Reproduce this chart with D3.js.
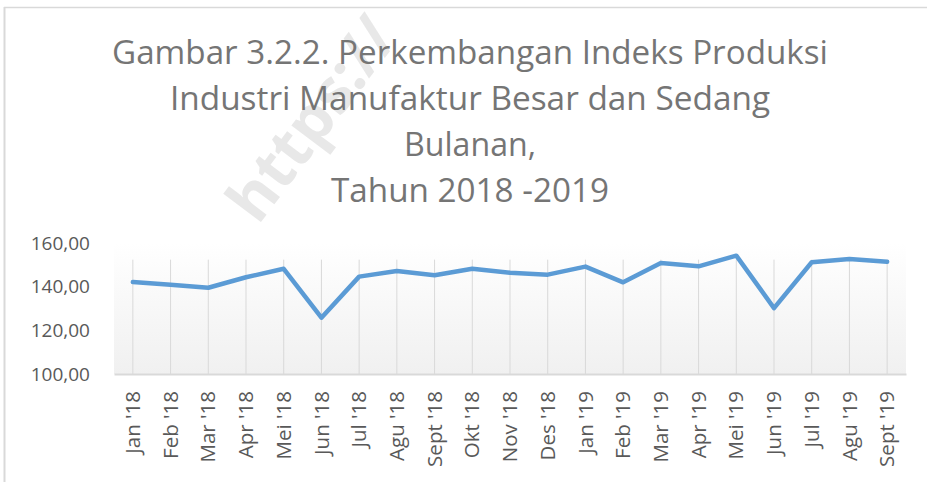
<!DOCTYPE html>
<html>
<head>
<meta charset="utf-8">
<script src="https://cdn.jsdelivr.net/npm/d3@7"></script>
<style>
  body { margin: 0; background: #fff; }
  text { font-family: "Open Sans", "Noto Sans", sans-serif; }
</style>
</head>
<body>
<div id="chart"></div>
<script>
// data
const months = ["Jan '18", "Feb '18", "Mar '18", "Apr '18", "Mei '18", "Jun '18", "Jul '18",
  "Agu '18", "Sept '18", "Okt '18", "Nov '18", "Des '18", "Jan '19", "Feb '19", "Mar '19",
  "Apr '19", "Mei '19", "Jun '19", "Jul '19", "Agu '19", "Sept '19"];
const indeks = [142.1, 140.9, 139.5, 144.3, 148.2, 125.8, 144.6, 147.2, 145.2, 148.2, 146.4,
  145.5, 149.2, 142.0, 150.8, 149.3, 154.2, 130.2, 151.2, 152.7, 151.4];
const yTicks = [100, 120, 140, 160];
const titleLines = ["Gambar 3.2.2. Perkembangan Indeks Produksi",
  "Industri Manufaktur Besar dan Sedang", "Bulanan,", "Tahun 2018 -2019"];

const width = 927, height = 482;
const margin = {top: 243, right: 21, bottom: 108, left: 114};

const svg = d3.select("#chart")
  .append("svg")
  .attr("width", width)
  .attr("height", height);

// chart frame (only top and left edges are visible)
svg.append("line").attr("x1", 4.5).attr("x2", 4.5).attr("y1", 7).attr("y2", height)
  .attr("stroke", "#d9d9d9").attr("stroke-width", 2);
svg.append("line").attr("x1", 4).attr("x2", width).attr("y1", 7.5).attr("y2", 7.5)
  .attr("stroke", "#d9d9d9").attr("stroke-width", 1.5);

// background gradient of the plot area
const grad = svg.append("defs").append("linearGradient")
  .attr("id", "bg").attr("x1", 0).attr("x2", 0).attr("y1", 0).attr("y2", 1);
grad.append("stop").attr("offset", "0%").attr("stop-color", "#ffffff");
grad.append("stop").attr("offset", "100%").attr("stop-color", "#f0f0f0");

let xScale = d3.scaleBand()
  .domain(months)
  .range([margin.left, width - margin.right]);

let yScale = d3.scaleLinear()
  .domain([100, 160])
  .range([height - margin.bottom, margin.top]);

svg.append("rect")
  .attr("x", margin.left)
  .attr("y", margin.top)
  .attr("width", width - margin.left - margin.right)
  .attr("height", height - margin.top - margin.bottom)
  .attr("fill", "url(#bg)");

// watermark of the source site
svg.append("text")
  .attr("transform", "translate(258,226) rotate(-53)")
  .attr("font-size", 62)
  .attr("font-weight", "bold")
  .attr("fill", "#e8e8e8")
  .attr("textLength", 236)
  .attr("lengthAdjust", "spacingAndGlyphs")
  .text("https://");

// vertical grid lines at each category
svg.append("g")
  .selectAll("line")
  .data(months)
  .enter()
  .append("line")
    .attr("x1", (d) => xScale(d) + xScale.bandwidth() / 2)
    .attr("x2", (d) => xScale(d) + xScale.bandwidth() / 2)
    .attr("y1", yScale(100))
    .attr("y2", yScale(d3.max(indeks)) + 4)
    .attr("stroke", "#d9d9d9")
    .attr("stroke-width", 1);

// x axis
const xAxis = svg.append("g")
  .attr("transform", `translate(0,${yScale(100)})`)
  .call(d3.axisBottom(xScale).tickSize(0).tickPadding(0));
xAxis.select(".domain").attr("stroke", "#d9d9d9").attr("stroke-width", 2);
xAxis.selectAll("text")
  .attr("font-size", 20.5)
  .attr("fill", "#595959")
  .attr("transform", "rotate(-90)")
  .attr("text-anchor", "end")
  .attr("x", -17)
  .attr("y", 0)
  .attr("dy", "0.35em");

// y axis, labels only
const yAxis = svg.append("g")
  .attr("transform", `translate(${margin.left}, 0)`)
  .call(d3.axisLeft(yScale).tickValues(yTicks).tickSize(0).tickPadding(24)
    .tickFormat((d) => d3.format(".2f")(d).replace(".", ",")));
yAxis.select(".domain").remove();
yAxis.selectAll("text").attr("font-size", 19).attr("fill", "#595959");

// the line
const line = d3.line()
  .x((d, i) => xScale(months[i]) + xScale.bandwidth() / 2)
  .y((d) => yScale(d));

svg.append("path")
  .datum(indeks)
  .attr("d", line)
  .attr("fill", "none")
  .attr("stroke", "#5b9bd5")
  .attr("stroke-width", 4.5)
  .attr("stroke-linejoin", "round")
  .attr("stroke-linecap", "round");

// title, each line squeezed to the width it has in the picture
const titleWidths = [716, 600, 132, 278];
svg.append("g")
  .selectAll("text")
  .data(titleLines)
  .enter()
  .append("text")
    .attr("x", 470)
    .attr("y", (d, i) => 64 + i * 46)
    .attr("text-anchor", "middle")
    .attr("font-size", 33)
    .attr("fill", "#757575")
    .attr("textLength", (d, i) => titleWidths[i])
    .attr("lengthAdjust", "spacingAndGlyphs")
    .text((d) => d);
</script>
</body>
</html>
